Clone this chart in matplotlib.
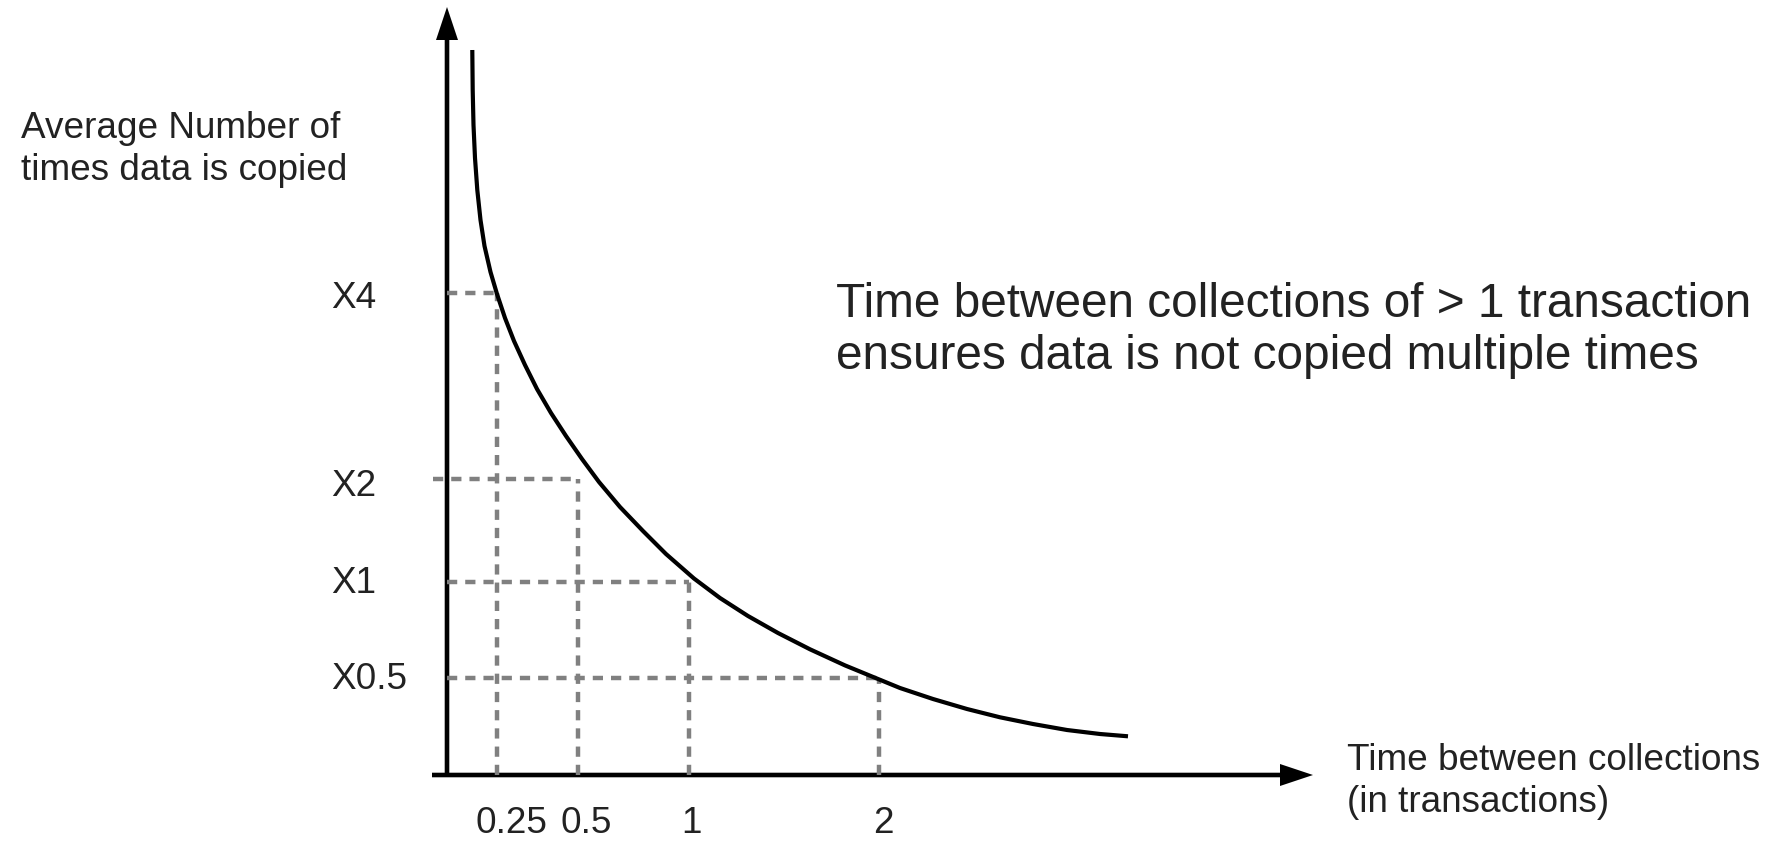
import numpy as np
import matplotlib.pyplot as plt

plt.rcParams['font.family'] = ['Liberation Sans', 'DejaVu Sans']

x_ticks = ['0.25', '0.5', '1', '2']
x_pos = [50, 131, 242, 432]
y_ticks = ['X4', 'X2', 'X1', 'X0.5']
y_pos = [482, 296, 193, 97]

# the copy-count curve
curve_x = [25.3, 25.7, 26.5, 28, 30.3, 33.5, 37.5, 43.5, 50, 58, 67, 78, 90,
           104, 119, 135, 152, 173, 196, 219, 247, 273, 301, 331, 363, 398,
           433, 453, 486, 520, 553, 586, 620, 653, 681]
curve_y = [725, 685, 650, 617, 585, 555, 529, 503, 481, 457, 434, 410, 386,
           362, 339, 316, 293, 268, 244, 221, 196.5, 177, 159, 142, 125.7, 109.6,
           95.2, 87, 76, 66, 57.7, 51, 45, 41, 38.7]

y_label = ['Average Number of', 'times data is copied']
x_label = ['Time between collections', '(in transactions)']
note = ['Time between collections of > 1 transaction',
        'ensures data is not copied multiple times']

W, H = 1781, 842
ox, oy = 447, 775   # where the two axes meet

fig = plt.figure(figsize=(W / 100, H / 100), dpi=100)
ax = fig.add_axes([0, 0, 1, 1])
ax.set_xlim(-ox, W - ox)
ax.set_ylim(oy - H, oy)
ax.axis('off')

txt = '#222222'
small = 26.6
big = 34.4
dash = (0, (2.3, 1.8))

# dashed guides
h_start = [0, -14, 0, 0]
for xp, yp, xs in zip(x_pos, y_pos, h_start):
    ax.plot([xs, xp], [yp, yp], color='#808080', lw=3.2, ls=dash)
    ax.plot([xp, xp], [0, yp], color='#808080', lw=3.2, ls=dash)

# axes with arrow heads
ax.arrow(0, -2, 0, 770, width=4.6, head_width=22, head_length=33,
         length_includes_head=True, color='black', lw=0)
ax.arrow(-15, 0, 881, 0, width=4.6, head_width=22, head_length=33,
         length_includes_head=True, color='black', lw=0)

ax.plot(curve_x, curve_y, color='black', lw=3.0, solid_capstyle='butt',
        solid_joinstyle='round')

# tick labels
x_shift = [14, 8, 2, 4]
for lab, xp, dx in zip(x_ticks, x_pos, x_shift):
    ax.text(xp + dx, -58, lab, ha='center', va='baseline', fontsize=small, color=txt)
y_drop = [15, 17, 11, 11]
for lab, yp, dy in zip(y_ticks, y_pos, y_drop):
    ax.text(-116, yp - dy, lab, ha='left', va='baseline', fontsize=small, color=txt)

for i, line in enumerate(y_label):
    ax.text(-426, 637 - 42 * i, line, ha='left', va='baseline', fontsize=small, color=txt)
for i, line in enumerate(x_label):
    ax.text(900, 5 - 42 * i, line, ha='left', va='baseline', fontsize=small, color=txt)
for i, line in enumerate(note):
    ax.text(389, 458 - 52 * i, line, ha='left', va='baseline', fontsize=big, color=txt)

fig.savefig('out.png', dpi=100)
